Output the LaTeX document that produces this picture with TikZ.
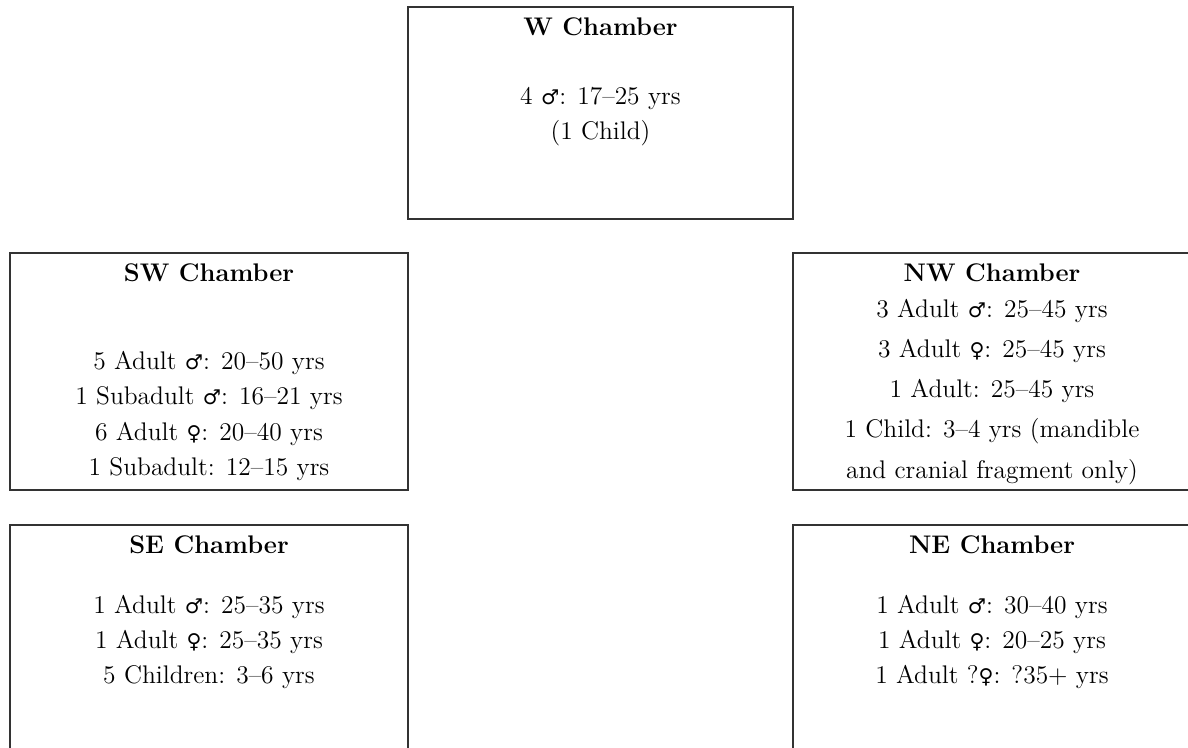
\documentclass[tikz,border=0pt]{standalone}
\usepackage{fontspec}
\newfontfamily\symfont[Scale=0.8]{DejaVu Sans}
\usetikzlibrary{positioning}
\newcommand{\malesym}{{\symfont ♂}}
\newcommand{\femsym}{{\symfont ♀}}
\newcommand{\bodyfont}{\fontsize{14.5}{20}\selectfont}
\begin{document}
\begin{tikzpicture}[
    chamber/.style={draw=black!80, line width=0.8pt, rectangle, minimum width=7.96cm,
                    minimum height=4.74cm, inner sep=0pt},
    title/.style={font=\bodyfont\bfseries, inner sep=0pt},
    info/.style={align=center, font=\bodyfont, inner sep=0pt}]
    \useasboundingbox (0,0) rectangle (23.76,-14.94);
    % chambers
    \node[chamber, minimum width=7.70cm, minimum height=4.24cm] (w) at (12.01,-2.26) {};
    \node[chamber] (sw) at (4.18,-7.43)   {};
    \node[chamber] (nw) at (19.84,-7.43)  {};
    \node[chamber] (se) at (4.18,-12.87)  {};
    \node[chamber] (ne) at (19.84,-12.87) {};
    \foreach \c/\t in {w/W, sw/SW, nw/NW, se/SE, ne/NE}
        \node[title] (\c-title) at ([yshift=-0.4cm]\c.north) {\t~Chamber};
    % remains in each chamber
    \node[info] (w-info) at ([yshift=-0.08cm]w.center)
        {4 \malesym: 17--25 yrs\\(1 Child)};
    \node[info] (sw-info) at ([yshift=-0.89cm]sw.center)
        {5 Adult \malesym: 20--50 yrs\\1 Subadult \malesym: 16--21 yrs\\
         6 Adult \femsym: 20--40 yrs\\1 Subadult: 12--15 yrs};
    \node[info, font=\fontsize{14.5}{22.8}\selectfont] (nw-info) at ([yshift=-0.41cm]nw.center)
        {3 Adult \malesym: 25--45 yrs\\3 Adult \femsym: 25--45 yrs\\1 Adult: 25--45 yrs\\
         1 Child: 3--4 yrs (mandible\\and cranial fragment only)};
    \node[info] (se-info) at ([yshift=0.03cm]se.center)
        {1 Adult \malesym: 25--35 yrs\\1 Adult \femsym: 25--35 yrs\\5 Children: 3--6 yrs};
    \node[info] (ne-info) at ([yshift=0.03cm]ne.center)
        {1 Adult \malesym: 30--40 yrs\\1 Adult \femsym: 20--25 yrs\\1 Adult ?\femsym: ?35+ yrs};
\end{tikzpicture}
\end{document}
